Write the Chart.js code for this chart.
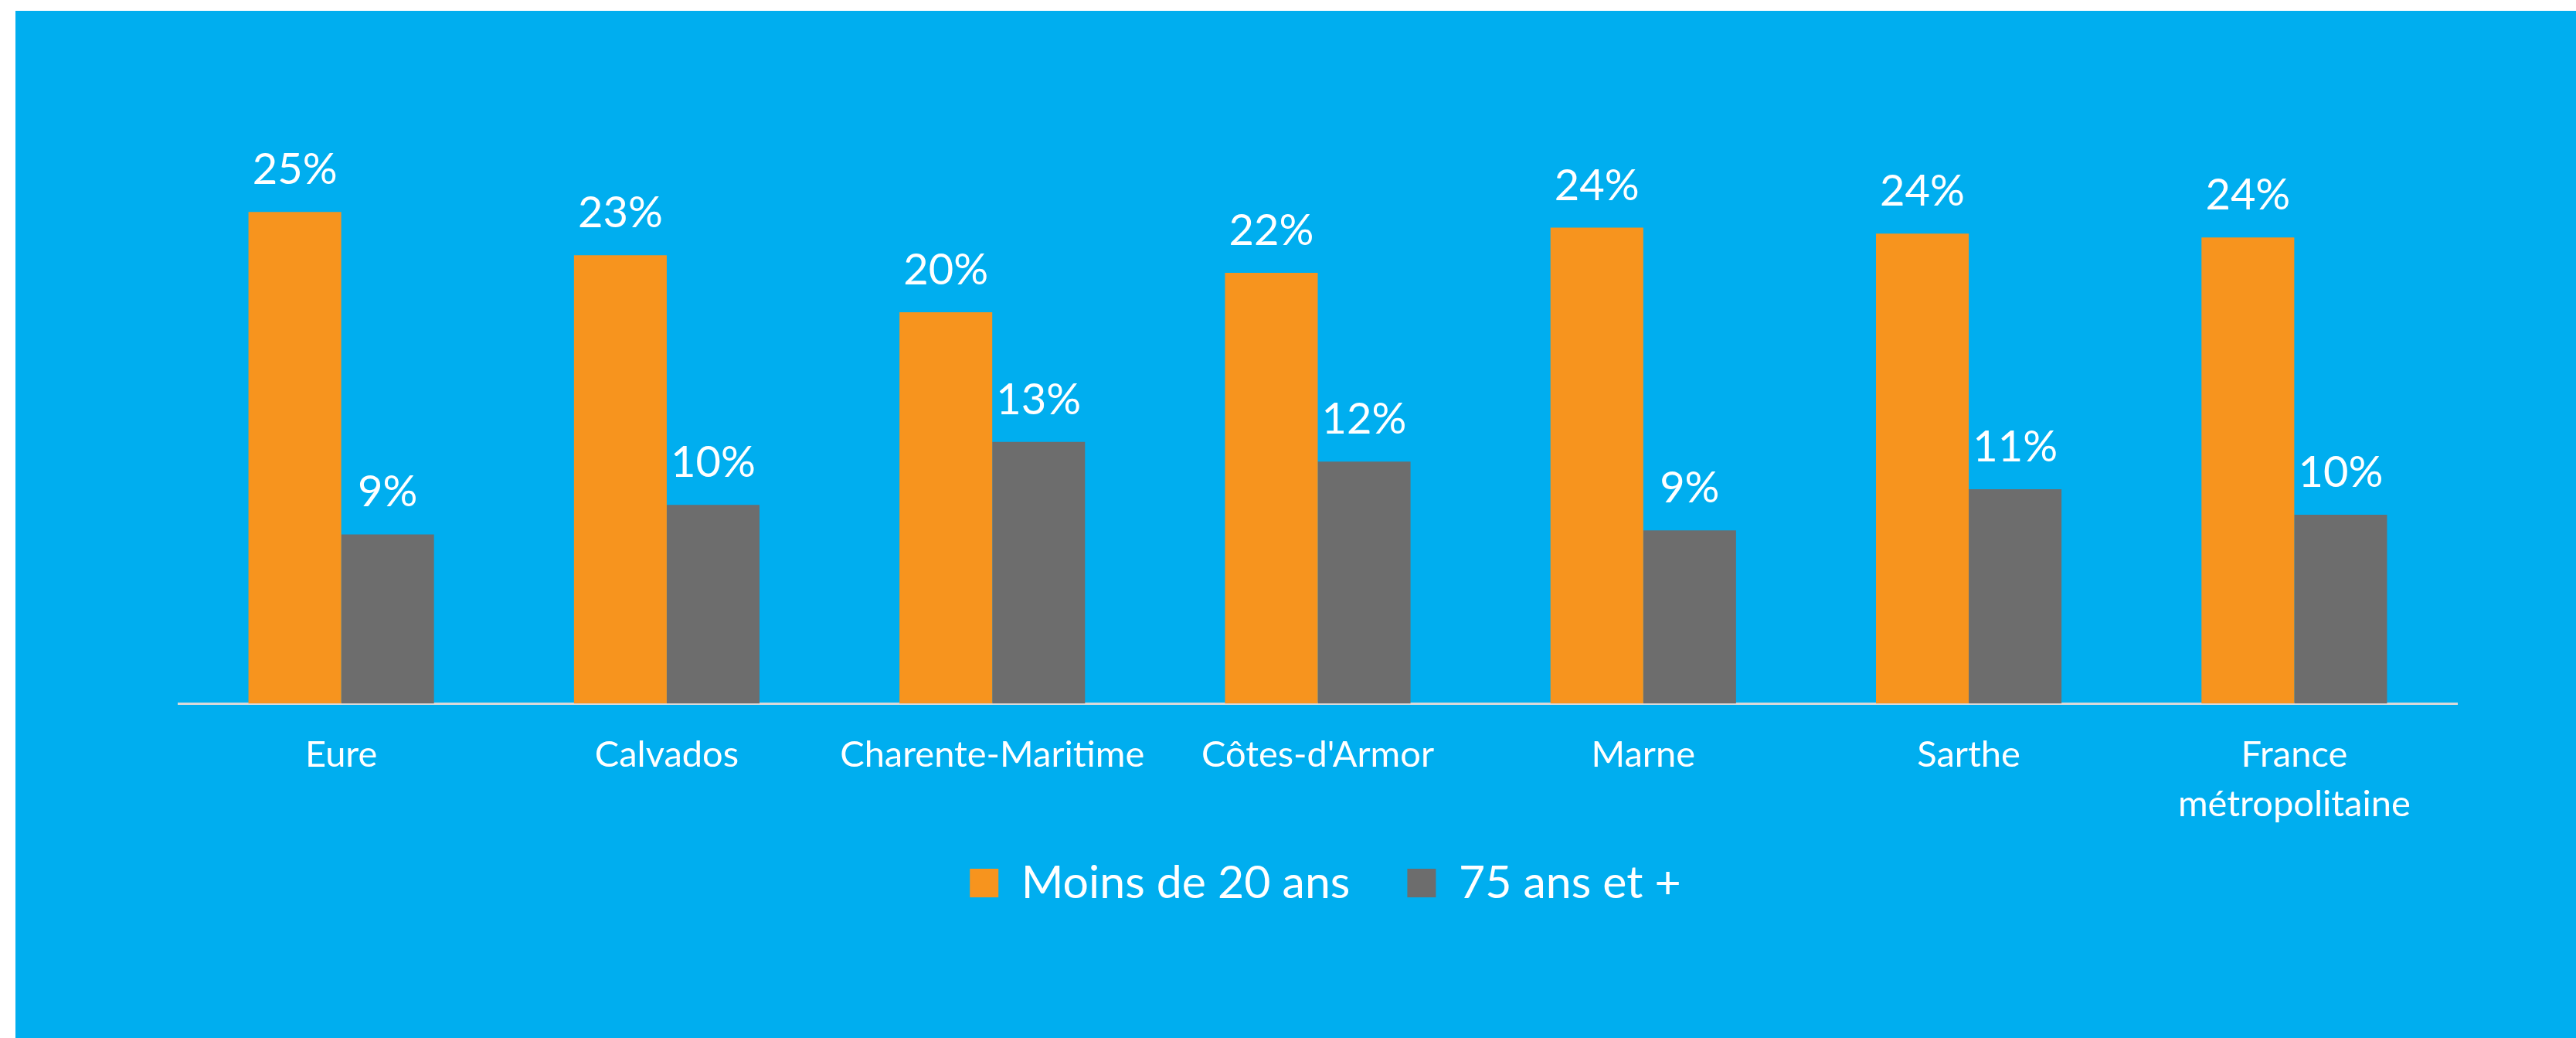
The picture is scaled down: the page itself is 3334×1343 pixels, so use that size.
<!DOCTYPE html>
<html>
<head>
<meta charset="utf-8">
<script src="https://cdn.jsdelivr.net/npm/chart.js@4"></script>
<style>
  body { margin: 0; background: #ffffff; }
  canvas { display: block; }
</style>
</head>
<body>
<canvas id="ageChart" width="3334" height="1343"></canvas>
<script>
// Départements comparés
const departements = ['Eure', 'Calvados', 'Charente-Maritime', "Côtes-d'Armor", 'Marne', 'Sarthe', ['France', 'métropolitaine']]
// Part de la population (%)
const moinsDe20 = [25.0, 22.8, 19.9, 21.9, 24.2, 23.9, 23.7]
const plus75 = [8.6, 10.1, 13.3, 12.3, 8.8, 10.9, 9.6]
const seriesNoms = ['Moins de 20 ans', '75 ans et +']

//fond bleu avec marge blanche en haut et a gauche
const fondBleu = {
    id: 'fondBleu',
    beforeDraw(chart) {
        const ctx = chart.ctx
        ctx.save()
        ctx.fillStyle = '#ffffff'
        ctx.fillRect(0, 0, chart.width, chart.height)
        ctx.fillStyle = '#00AEEF'
        ctx.fillRect(20, 14, chart.width - 20, chart.height - 14)
        ctx.restore()
    }
}

//legende plus pres des libelles (afterFit coupe la 2e ligne)
const remonterLegende = {
    id: 'remonterLegende',
    afterLayout(chart) {
        chart.legend.top -= 69
        chart.legend.bottom -= 69
        chart.legend.left += 10
        chart.legend.right += 10
    }
}

//valeurs au dessus des barres
const etiquettes = {
    id: 'etiquettes',
    afterDatasetsDraw(chart) {
        const ctx = chart.ctx
        ctx.save()
        ctx.font = '56px Lato'
        ctx.fillStyle = '#ffffff'
        ctx.textAlign = 'center'
        ctx.textBaseline = 'alphabetic'
        chart.data.datasets.forEach((ds, i) => {
            chart.getDatasetMeta(i).data.forEach((bar, j) => {
                ctx.fillText(Math.round(ds.data[j]) + '%', bar.x, bar.y - 36)
            })
        })
        ctx.restore()
    }
}

const chart = document.getElementById('ageChart')
let barchart = new Chart(chart, {
    type: 'bar',
    data: {
        labels: departements,
        datasets: [{
            label: seriesNoms[0],
            data: moinsDe20,
            backgroundColor: '#F7941E',
            borderWidth: 0,
            categoryPercentage: 0.57,
            barPercentage: 1.0
        }, {
            label: seriesNoms[1],
            data: plus75,
            backgroundColor: '#6D6D6D',
            borderWidth: 0,
            categoryPercentage: 0.57,
            barPercentage: 1.0
        }]
    },
    options: {
        responsive: false,
        animation: false,
        devicePixelRatio: 1,
        layout: {
            padding: { top: 147, left: 231, right: 154, bottom: 92 }
        },
        plugins: {
            legend: {
                position: 'bottom',
                labels: {
                    color: '#ffffff',
                    font: { family: 'Lato', size: 59 },
                    boxWidth: 37,
                    boxHeight: 37,
                    padding: 74
                }
            },
            tooltip: { enabled: false }
        },
        scales: {
            x: {
                grid: { display: false, drawTicks: false },
                border: { display: true, color: '#D9D9D9', width: 3 },
                ticks: {
                    color: '#ffffff',
                    font: { family: 'Lato', size: 47, lineHeight: 1.36 },
                    padding: 35,
                    maxRotation: 0,
                    autoSkip: false
                }
            },
            y: {
                display: false,
                min: 0,
                max: 30
            }
        }
    },
    plugins: [fondBleu, remonterLegende, etiquettes]
})
</script>
</body>
</html>
